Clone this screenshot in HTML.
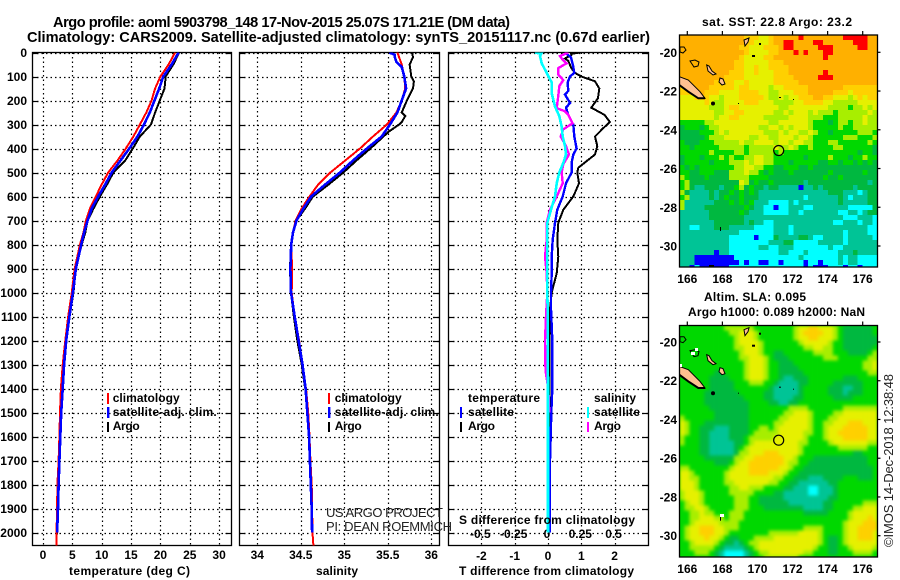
<!DOCTYPE html>
<html>
<head>
<meta charset="utf-8">
<title>Argo profile</title>
<style>
html,body{margin:0;padding:0;background:#fff;width:900px;height:580px;overflow:hidden}
svg{display:block}
text{font-family:"Liberation Sans",sans-serif;fill:#000}
.b12{font-size:12px;font-weight:bold}
.b14{font-size:14.6px;font-weight:bold}
.thin{font-size:13px;font-weight:normal;fill:#222}
</style>
</head>
<body>
<svg id="fig" xmlns="http://www.w3.org/2000/svg" width="900" height="580" viewBox="0 0 900 580">
<defs>
<clipPath id="clipT"><rect x="32.5" y="52.5" width="199" height="493"/></clipPath>
<clipPath id="clipS"><rect x="239.5" y="52.5" width="200" height="493"/></clipPath>
<clipPath id="clipD"><rect x="448.5" y="52.5" width="200" height="493"/></clipPath>
<clipPath id="clipM1"><rect x="679.5" y="35" width="198" height="232"/></clipPath>
<clipPath id="clipM2"><rect x="679.5" y="325.5" width="198" height="231.5"/></clipPath>
<filter id="soften" x="-5%" y="-5%" width="110%" height="110%" color-interpolation-filters="sRGB"><feGaussianBlur stdDeviation="1.7"/></filter>
<g id="islands">
<polygon points="679.3,76.7 688.3,80 700,91.7 705,98.3 698.3,98.3 688.3,91.7 679.3,85" fill="#ffc090" stroke="#000" stroke-width="1"/>
<polyline points="679.3,85 688.3,91.7 698.3,98.3 705,98.3" fill="none" stroke="#000" stroke-width="2"/>
<polygon points="706.7,65 709,66 712,71 716,74 713,75 708,71" fill="#ffc090" stroke="#000" stroke-width="1"/>
<polygon points="720,78 723,79 725,84 722,85 719,82" fill="#ffc090" stroke="#000" stroke-width="1"/>
<polygon points="690,61 695,60 699,62 698,66 694,67" fill="none" stroke="#000" stroke-width="1"/>
<polygon points="680,47 684,47 686,50 683,53 680,52" fill="none" stroke="#000" stroke-width="1"/>
<polygon points="744,40 749,38 748,42 745,46" fill="#ffc090" stroke="#000" stroke-width="1"/>
<circle cx="713" cy="103.5" r="2" fill="#000"/>
<rect x="759" y="43" width="2" height="2" fill="#000"/>
<rect x="752" y="55" width="3" height="2" fill="#000"/>
<rect x="779" y="97" width="2" height="1" fill="#000"/>
<rect x="793" y="99" width="1" height="1" fill="#000"/>
<rect x="738" y="103" width="1" height="1" fill="#000"/>
<rect x="720" y="227" width="1" height="4" fill="#000"/>
</g>
</defs>

<g id="panels"></g>

<text class="b14" x="53" y="27" textLength="457" lengthAdjust="spacing">Argo profile: aoml 5903798_148 17-Nov-2015 25.07S 171.21E (DM data)</text>
<text class="b14" x="27" y="42" textLength="623" lengthAdjust="spacing">Climatology: CARS2009. Satellite-adjusted climatology: synTS_20151117.nc (0.67d earlier)</text>

<text class="b12" x="69" y="575" textLength="121" lengthAdjust="spacing">temperature (deg C)</text>
<text class="b12" x="316" y="575" textLength="42" lengthAdjust="spacing">salinity</text>
<text class="b12" x="459" y="575" textLength="175" lengthAdjust="spacing">T difference from climatology</text>
<text class="b12" x="459" y="524" textLength="176" lengthAdjust="spacing">S difference from climatology</text>

<g>
<rect x="107" y="393" width="2" height="11" fill="#f00"/>
<rect x="107" y="407" width="2.4" height="11" fill="#00f"/>
<rect x="107" y="422" width="2" height="10" fill="#000"/>
<text class="b12" x="112.7" y="402" textLength="67" lengthAdjust="spacing">climatology</text>
<text class="b12" x="112.7" y="416" textLength="104" lengthAdjust="spacing">satellite-adj. clim.</text>
<text class="b12" x="112.7" y="430" textLength="27" lengthAdjust="spacing">Argo</text>
</g>
<g>
<rect x="328" y="393" width="2" height="11" fill="#f00"/>
<rect x="328" y="407" width="2.4" height="11" fill="#00f"/>
<rect x="328" y="422" width="2" height="10" fill="#000"/>
<text class="b12" x="334.7" y="402" textLength="67" lengthAdjust="spacing">climatology</text>
<text class="b12" x="334.7" y="416" textLength="104" lengthAdjust="spacing">satellite-adj. clim.</text>
<text class="b12" x="334.7" y="430" textLength="27" lengthAdjust="spacing">Argo</text>
</g>
<g>
<text class="b12" x="468" y="402" textLength="72" lengthAdjust="spacing">temperature</text>
<rect x="460" y="407" width="2" height="11" fill="#00f"/>
<rect x="460" y="422" width="2" height="10" fill="#000"/>
<text class="b12" x="468" y="416" textLength="46" lengthAdjust="spacing">satellite</text>
<text class="b12" x="468" y="430" textLength="27" lengthAdjust="spacing">Argo</text>
<text class="b12" x="594" y="402" textLength="42" lengthAdjust="spacing">salinity</text>
<rect x="587" y="407" width="2" height="11" fill="#0ff"/>
<rect x="587" y="422" width="2" height="10" fill="#f0f"/>
<text class="b12" x="594" y="416" textLength="46" lengthAdjust="spacing">satellite</text>
<text class="b12" x="594" y="430" textLength="27" lengthAdjust="spacing">Argo</text>
</g>

<text class="thin" x="326" y="517" textLength="117" lengthAdjust="spacing">US ARGO PROJECT</text>
<text class="thin" x="326" y="531" textLength="126" lengthAdjust="spacing">PI: DEAN ROEMMICH</text>

<text class="b12" x="702" y="26" textLength="150" lengthAdjust="spacing">sat. SST: 22.8 Argo: 23.2</text>
<text class="b12" x="704" y="301" textLength="102" lengthAdjust="spacing">Altim. SLA: 0.095</text>
<text class="b12" x="688" y="316" textLength="177" lengthAdjust="spacing">Argo h1000: 0.089 h2000: NaN</text>
<text class="thin" transform="translate(893,547) rotate(-90)" x="0" y="0" textLength="173" lengthAdjust="spacing">©IMOS 14-Dec-2018 12:38:48</text>

<g id="maps"></g>
<g fill="#fff" shape-rendering="crispEdges">
<rect x="695" y="348" width="3" height="3"/>
<rect x="691" y="352" width="4" height="3"/>
<rect x="680" y="364" width="2" height="3"/>
<rect x="720" y="514" width="4" height="3"/>
</g>
</svg>

<script>
// ---- profile data (depth in dbar, temperature deg C, salinity PSU, differences) ----
const depthTicks = [0,100,200,300,400,500,600,700,800,900,1000,1100,1200,1300,1400,1500,1600,1700,1800,1900,2000];
const tempTicks = [0,5,10,15,20,25,30];
const salTicks = [34,34.5,35,35.5,36];
const tDiffTicks = [-2,-1,0,1,2];
const sDiffTicks = [-0.5,-0.25,0,0.25,0.5];
const latTicks = [-20,-22,-24,-26,-28,-30];
const lonTicks = [166,168,170,172,174,176];

const tempDepths = [0,50,100,150,200,250,300,350,400,450,500,550,600,650,700,750,800,900,1000,1100,1200,1300,1400,1500,1600,1700,1800,1900,2000,2054];
const tempArgo = [23.2,22.2,20.9,20.7,19.9,19.1,18.4,16.5,15.3,14.0,12.0,10.9,9.7,8.6,7.6,7.2,6.6,5.6,5.2,4.5,3.9,3.6,3.35,3.1,2.95,2.7,2.6,2.45,2.35,2.3];
const tempClim = [22.5,21.4,20.0,19.1,18.5,17.6,16.5,15.4,14.1,12.7,11.1,10.0,9.0,8.0,7.3,6.9,6.3,5.4,4.9,4.3,3.8,3.35,3.05,2.9,2.8,2.65,2.45,2.4,2.3,2.3];
const tempSat = [23.1,21.9,20.5,19.8,19.0,18.2,17.2,16.1,14.7,13.2,11.7,10.6,9.4,8.3,7.6,7.0,6.5,5.6,5.1,4.5,3.95,3.6,3.35,3.1,2.95,2.8,2.65,2.55,2.4];

const salArgoDepths = [0,20,50,100,120,150,200,250,265,290,300,330,350,400,450,500,550,600,650,700,750,800,900,1000,1100,1200,1300,1400];
const salArgo = [35.78,35.79,35.75,35.77,35.8,35.79,35.72,35.66,35.70,35.66,35.63,35.51,35.45,35.3,35.14,34.99,34.82,34.64,34.55,34.45,34.41,34.39,34.375,34.387,34.42,34.46,34.51,34.55];
const salClimDepths = [0,50,100,150,200,250,300,350,400,450,500,550,600,650,700,750,800,900,1000,1100,1200,1300,1400,1500,1600,1700,1800,1900,2000,2054];
const salClim = [35.61,35.66,35.69,35.70,35.66,35.60,35.49,35.33,35.18,35.01,34.84,34.70,34.6,34.51,34.44,34.41,34.39,34.40,34.395,34.43,34.48,34.52,34.56,34.585,34.6,34.61,34.625,34.63,34.635,34.645];
const salSatDepths = [0,10,20,40,60,100,150,200,250,300,350,400,450,500,550,600,650,700,750,800,900,1000,1100,1200,1300,1400,1500,1600,1700,1800,1900,2000];
const salSat = [35.52,35.58,35.58,35.6,35.66,35.69,35.71,35.66,35.61,35.525,35.43,35.26,35.10,34.95,34.78,34.62,34.53,34.45,34.41,34.39,34.38,34.387,34.43,34.475,34.52,34.555,34.575,34.595,34.605,34.615,34.625,34.63];

const dtArgoDepths = [0,5,10,25,35,65,85,100,120,150,190,230,260,290,315,350,390,425,480,500,545,600,655,710,780,850,920,1000,1070,1200,1400,1600,1800,2000];
const dtArgo = [0.96,0.71,0.71,0.51,0.61,0.7,0.81,1.0,1.41,1.54,1.5,1.3,1.7,1.86,1.66,1.41,1.48,1.41,0.91,0.88,0.93,0.76,0.46,0.31,0.28,0.31,0.26,0.11,0.06,0.05,0.05,0.03,0.03,0.02];
const dtSatDepths = [0,20,60,85,100,125,160,175,210,230,260,300,350,400,425,460,500,545,600,655,710,780,850,920,1000,1070,1100,1200,1300,1400,1500,1600,1700,1800,1900,2000];
const dtSat = [0.51,0.69,0.76,0.79,0.66,0.59,0.61,0.51,0.66,0.54,0.61,0.76,0.79,0.86,0.76,0.71,0.71,0.54,0.44,0.28,0.21,0.14,0.11,0.11,0.09,0.09,0.1,0.13,0.13,0.13,0.1,0.08,0.06,0.05,0.05,0.05];
const dsSatDepths = [0,5,15,45,85,125,170,225,265,310,350,390,425,460,500,545,600,655,710,780,850,920,1000,1070,1400,2000];
const dsSat = [-0.0975,-0.05,-0.06,-0.0475,-0.01,0.0275,0.0275,0.0525,0.085,0.1025,0.11,0.1275,0.135,0.115,0.085,0.065,0.0525,0.0225,-0.005,-0.005,-0.005,-0.005,-0.005,-0.0025,0,0];
const dsArgoDepths = [0,15,30,45,65,92,115,140,180,232,245,260,295,320,350,390,425,465,500,545,600,655,710,780,850,920,1000,1100,1200,1300,1340,1400,1500];
const dsArgo = [0.1525,0.09,0.11,0.14,0.0775,0.0775,0.115,0.085,0.0775,0.065,0.1275,0.1525,0.185,0.115,0.095,0.135,0.1575,0.115,0.1025,0.11,0.065,0.015,-0.01,-0.01,-0.0225,-0.01,-0.005,-0.015,-0.0225,-0.02,-0.015,0.0025,0.01];

// ---- satellite SST map, colour-class rows (north to south) ----
const sstRows = [
"OOOOO OOOOO OOOAA AYYAO OOOOR OOOOO OOORR RRROO",
"OOOOO OOOOO OOOAA YYYAO ORROO OORRO OOOOO RRROO",
"OOOOO OOOOO OOAAY YYAAA ORROO OOORR ROOOO ORROO",
"OOOOO OOOOO OOOAY YYYAA OOORO ROOOR ROOOO OOOOO",
"OOOOO OOOOO OOAYY YYAAO OOOOO OOOOR OOOOO OOOOO",
"OOOOO OOOOO OAAYY YYYAA AOOOO OOOOO OOOOO OOOOO",
"OOOOO OOOOO OAAYY AYYAA AAOOO OOOOO OOOOO OOOOO",
"OOOOO OOOOO AAAYY AYYYA AAOOO OOOOR OOOOO OOOOO",
"OOOOO OOOOA AAAYY YYYYA AAAOO OOORR ROOOO OOOOO",
"AOOOO OOAAA AYYAY YYYYA AAAAO OOOOO OOOOO OOOOO",
"AAAOO OAAAA AYAAY YYYLY YAAAA AOOOO OOOAA AAAAA",
"AAAAO AAAYY YYAAA AYYLL YYYAA AOOOO OAAAY AAAAA",
"YYYAA AYYLY YYAAA AAYLL YLYYA AAOOA AYYYL YAYAA",
"YYYYY AYLLY YYYAA AYYYL LLLYY AAAAY YLLLL LYYYY",
"YYYYY YLLLY AAYYY YYYYY LLYYY YYYYY LLLLG LLYLY",
"YYYYY YYLLY YAAYY YYYYL LYLYY YLYLL LGLLL LLLYL",
"YYYYY YYLYY AAYYY YYLLL LLYYY YLLLG GGLLL LLYLL",
"GGGGG LLYYY YYYYY YYYLL YYYYY YLGGG MGLLG LLYLL",
"MGGGM GLLYY YYYYY YLLYY LYLYY YLGGG GGLGG LLLLL",
"MMMMG GGLYL YYYYY YYLLL YLYYL LYLGG MGGGG GLLLG",
"MMMMM GLLLY YYYYL LYYLL YYYLY YLGGG GGGLL LGGGL",
"GMMMG GGLLL LLYLL YYYYL YYLYY LLGGG LLGGG GGGLG",
"GGMGG GGGLL LLLGL LLLLY LLYLG GLGGG GLLGG GGGGM",
"GGGGG GLGGG GLLGL LLLLG LGGGG GGGGG GGGGG GMGGM",
"MGGGM GGGLG LGGLL YYLLG GGGGG MGGGG LGGGM GGLGG",
"MGGGG GMGGG LLLYL YYLLG GGMGG GGGMM GGMGG MGMGM",
"GMGMG GGGGG GLLYY LLGGM MGGGM MGMMM MMMMM MMMMM",
"GGMMG GGMMM LLLYL LGMGM MMGMM MMMMM GMMMM MMGMM",
"LGMMM GMMMM LLLLG GGGMM MMMMM MMMMG MMGMM MMMMM",
"GLMMM MMMMM MMYLM GMMGM MMMMM TMMMM MMMMM MMMTM",
"GLMTT MMMTM MGLMG MMTMM TTTTB TTMTM MMMMM TMMMM",
"LMTTT TMTMM GMGMG MTTTT TTTTT TTTTT MMMTT TCTMM",
"GLTTT TMTMG MMGMM MTTTT TTTTT CTTTT TTMTC TTTMM",
"LTTTT TTMMM GMGMG TTTCC CCTCT TTTTT TTMTT TTTMM",
"LTTTT MMMMM MMMGM TTCCB CCTTT CCTTT TTTTC CCCCM",
"TTTTT TMMMM MMGMT TTCCC CCTTC TTTTT TTCCT TCTMM",
"TTTTT TMMMM MMMTT TTTTT TTTTT TTTTT TTTCC CTTTC",
"TTTTT TTMMM MMMTM TTCCT TTTTT TTTTT TCCTT TCTTC",
"TTCCT TTMMM TTTTT CCCCT TTCTT TTTTT TTTTT TTTCC",
"TTTTT TTTTT TTCCC CCCCT TTCTT TTTTT TTTCT TTTCC",
"TTTTT TTTTT CCCCC BCCCM TTTTM MTCCT TTTCT TTTTC",
"TTTTT TTTTT CCCCC CCCTT TMMCC CCCTT TTTCT TTTTT",
"TTTTT TTTTT CCCCC CTTCC TTTCC CCCCC TCCTT TTTTT",
"TTTTT TTBTT CCCCC CCCCC TTCCC TCCCC CCTTT MTTTT",
"TTTBB BBBBB BCCCC CCCCC CCCCT CCCCC CCTCT TCCCC",
"TTTBB BBBBB BBCBC CBBCC BCCCC BCCBC CCTCT TCCCC",
"TTBCB BKBBB CCCCC CCCCC CCCCC BCBBB CCCBC CBCCC"
];

// ---- altimetry SLA map, colour-class rows (north to south) ----
const slaRows = [
"GGGGG GGGGL LLLLL GGGGG GGGLY YAAYY YLGMM MMMMG",
"GGGGG GGGGG LLYYY LGGGG GGGLY AAAAY YLGMM MMMMG",
"GGGGG GGGGG GLYYY LGGGG GGGLY YAAYY YLGMM MMMMM",
"GGGGG GGGGG GLYYY YLGGG GGGGL YYYYY LGGMM MMMMM",
"GGGGG GGGGG GLLYY YLGGG GGGGG LLYYL LGGMM MMMMG",
"GGGGG GGGGG GGLYY YLGGM MGGGG GGLLL LGGGM MMMGL",
"GGGGG GGGGG GGLLY YYLGM MMGGG GGGGL LLGGG GGGLL",
"GGGGG GGGGG GGGLY YYLGG MMMGG GGGGG GGGGG GGLLY",
"GGGGG GGGGG GGGLY YYLGG MMMMG GGGGG GGGGG GGLLY",
"GGGGG GGMMG GGGLY YYLGG MMMMM GGGGG GGGGG GGGLL",
"GGGGG GMMMM GGGLY YYLGG MTTMM MGGGG GGGMM MGGGG",
"GGGGG GMMMM MGGGL LLGGM TTTTM MGGGG GMMMM MMGGG",
"GGGGG GMMMM MGGGG GGGMT TTTTM GGGGG MMMTT MMGGG",
"GGGGG MMMMM MMGGG GGMMT TTTTM GGGGG MMMTM MMGGG",
"GGGGG MMMMM MMMGG GGMMT TTTMM GGGGG GMMMM GGGGG",
"GGGGG MMMMM MMMMG GGGMM TTMMG GGGGG GGGGG GGGGG",
"GGGGG GMMMM MMMMG GGGGG GGLLL LGGGG GGGLL LLLLL",
"GGGGG GGMMM MMMMG GGGGG GLLYY YLGGG GLLYY YYYYY",
"LGGGG GGMMM MMMMG GGGGG LLYYY YLGGG LLYYY YYYYY",
"YLGGG MMMMM MMMMG GGGGL LYYYY YLGGL LYYYA AAYYY",
"YLGGM MMTTT MMMMG GLLGL YYYYY YLGGL YYYAA AAAYY",
"YLGGM MTTTT MMMMG LLLLL YYYYY LLGGL YYAAA AAAYY",
"LGGGM MTTTT MMMGL LLLLY YYYYY LGGGL YYYAA AAAYY",
"LGGGM MTTTT TMMGL YYYYY YYYYL LGGGG LYYYY YYYLL",
"GGGGM MTTTT TMGLY YYYYY YYYYL GGGGG GGLLL LLLGG",
"GGGGM MTTTT TMLLY YYAAA YYYYL GGGGG GGGGG MMGGG",
"GGGGG MMMMM MLLYY AAAAA AYYLG GGMMM MMMMM MMMGG",
"GGGGG GGMMM GLYYA AAAAA AYLLG GMMMM MMMMM MMMGG",
"LLGGG GGGGG LYYYA AAAAA YYLGG MMMMM MMMMM MMMMG",
"YYLGG GGGGL YYYYA AAAYY YLGGM MMMMM MMMMM MMMMG",
"YYLLG GGGGL YYYYY YYYYL LGGMM MTTTM MMMGG GMMMG",
"YYYLG GGGGL LYYYY YYYLL GGMMT TTTTT MMGGG GGGGG",
"YYYLG GGGGG LLYYL LLGGG GMMTT TCCTT TMGGG GGGGG",
"LYYYL GGGGG LLLLL GGGGM MTTTT TCCTT TMGGG GGGGG",
"LYYYL GGGGG GLLLG GMMMM MTTTT TTTTT MMGGG GGGGG",
"GLYYL GGGGG GLLLG GMMMM MMTTT TTTTM MGGGG GGLLL",
"GLLYY LGGGG GLLLG GGMMM MMMMM TTTTM MGGGG LLYYY",
"GGLLY LLGGG LLLGG GGGGG GGGGG MMMMM GGGGL YYYYY",
"GGLLY YYLLG LLLGG GGGGG GGGGG GGGGG GGGGL YYYAY",
"GGLYY YYYLL LLGGG GGGGG GGGGG GGGGG GGGLY YYAAA",
"GLYYA AAYYL LLGGG GGGGG GGGGG LLLLG GGGLY YAAAA",
"GLYYA AAYYL GGGGG GGGLL LLLLY YYYLG GGGLY YAAAY",
"GLYYY AYYLG MMGGG LLLLY YYYYY YYYLG MMGLY YAAAY",
"GGLYY YYLGM MTMGL LYYYY YYYYY YYYLG MMGLY YYYYY",
"GGLLL LLGMT TTTMG LYYYY YYYYY YYLGG MMGGL YYYYL",
"GGGLL LGMTC CCCTM GLLYY YYYYY LLGGG MMGGG LLLLG",
"GGGGG GGMTC CCCTM GGLLL LLLLG GGGGG GGGGG GGGGG"
];

const classColors = {O:"#ffb000",A:"#ffd000",Y:"#e6f000",L:"#a8ee00",G:"#00d800",M:"#00b840",T:"#00c496",C:"#00ffff",B:"#0000ff",R:"#ff0000",K:"#000000"};
const floatLon = 171.21;
const floatLat = -25.07;

// ---- axis functions ----
const NS = "http://www.w3.org/2000/svg";
function depthY(d){ return 52.5 + 0.24*d; }
function tempX(t){ return 43 + 5.87*t; }
function salX(s){ return 257.3 + 87*(s-34); }
function dtX(t){ return 548 + 33.3*t; }
function dsX(s){ return 548 + 133.2*s; }
function lonX(lon){ return 687.3 + 17.54*(lon-166); }
function lat1Y(lat){ return 52.3 + 19.37*(-20-lat); }
function lat2Y(lat){ return 342 + 19.37*(-20-lat); }

function mk(parent, tag, attrs, txt){
  const el = document.createElementNS(NS, tag);
  for (const k in attrs) el.setAttribute(k, attrs[k]);
  if (txt !== undefined) el.textContent = txt;
  parent.appendChild(el);
  return el;
}

const panels = document.getElementById("panels");
const maps = document.getElementById("maps");

function drawFrame(name, x0, x1, vticks, xf, labels, labelBase){
  const g = mk(panels, "g", {});
  
  
  depthTicks.forEach(function(d){
    const y = Math.round(depthY(d)) + 0.5;
    const gl = mk(g, "line", {x1:x0, x2:x1, y1:y, y2:y, stroke:"#000", "stroke-width":1.2, "stroke-dasharray":"1.5 3"});
    
    
    const t1 = mk(g, "line", {x1:x0, x2:x0+6, y1:y, y2:y, stroke:"#000", "stroke-width":1.2});
    
    
    const t2 = mk(g, "line", {x1:x1-6, x2:x1, y1:y, y2:y, stroke:"#000", "stroke-width":1.2});
    
    
  });
  vticks.forEach(function(v, i){
    const x = Math.round(xf(v)) + 0.5;
    const gl = mk(g, "line", {x1:x, x2:x, y1:52.5, y2:545.5, stroke:"#000", "stroke-width":1.2, "stroke-dasharray":"1.5 3"});
    
    
    const lab = mk(g, "text", {x:xf(v), y:labelBase, "text-anchor":"middle", "class":"b12"}, labels[i]);
    
    
  });
  const fr = mk(g, "rect", {x:x0, y:52.5, width:x1-x0, height:493, fill:"none", stroke:"#000", "stroke-width":1.3});
  
  
}

drawFrame('temperature-panel', 32.5, 231.5, tempTicks, tempX, tempTicks.map(String), 559);
drawFrame('salinity-panel', 239.5, 439.5, salTicks, salX, salTicks.map(String), 559);
drawFrame('difference-panel', 448.5, 648.5, tDiffTicks, dtX, tDiffTicks.map(String), 560);

sDiffTicks.forEach(function(v){
  const lab = mk(panels, "text", {x:dsX(v)-1, y:538, "text-anchor":"middle", "class":"b12"}, String(v));
  
  
});

depthTicks.forEach(function(d){
  const lab = mk(panels, "text", {x:27, y:depthY(d)+4.5, "text-anchor":"end", "class":"b12"}, String(d));
  
  
});

function series(name, clip, depths, values, xf, color, width){
  const pts = values.map(function(v, i){ return xf(v).toFixed(1) + "," + depthY(depths[i]).toFixed(1); }).join(" ");
  const p = mk(panels, "polyline", {points:pts, fill:"none", stroke:color, "stroke-width":width, "clip-path":"url(#"+clip+")", "shape-rendering":"crispEdges"});
  
  
}

series('temperature-argo-line', 'clipT', tempDepths, tempArgo, tempX, "#000", 2);
series('temperature-climatology-line', 'clipT', tempDepths, tempClim, tempX, "#f00", 2);
series('temperature-satellite-line', 'clipT', tempDepths, tempSat, tempX, "#00f", 2.6);
series('salinity-argo-line', 'clipS', salArgoDepths, salArgo, salX, "#000", 2);
series('salinity-climatology-line', 'clipS', salClimDepths, salClim, salX, "#f00", 2);
series('salinity-satellite-line', 'clipS', salSatDepths, salSat, salX, "#00f", 2.6);
series('t-difference-argo-line', 'clipD', dtArgoDepths, dtArgo, dtX, "#000", 2);
series('t-difference-satellite-line', 'clipD', dtSatDepths, dtSat, dtX, "#00f", 2.4);
series('s-difference-argo-line', 'clipD', dsArgoDepths, dsArgo, dsX, "#f0f", 2.4);
series('s-difference-satellite-line', 'clipD', dsSatDepths, dsSat, dsX, "#0ff", 2.6);

function drawMap(name, rows, clip, top, bottom, latY, dy, tickBase, smooth){
  const g = mk(maps, "g", {});
  
  
  const clipper = mk(g, "g", {"clip-path":"url(#"+clip+")"});
  
  
  const backing = mk(clipper, "rect", {x:679.5, y:top, width:198, height:bottom-top, fill:classColors.G});
  
  
  const cellAttrs = smooth ? {filter:"url(#soften)"} : {"shape-rendering":"crispEdges"};
  const cells = mk(clipper, "g", cellAttrs);
  
  
  rows.forEach(function(row, r){
    const chars = row.replace(/ /g, "");
    for (let c = 0; c < chars.length; c++){
      const cell = mk(cells, "rect", {x:679.5 + c*4.95, y:top + r*5, width:5.2, height:5.2, fill:classColors[chars[c]]});
      
      
    }
  });
  const isl = mk(clipper, "use", {href:"#islands", y:dy});
  
  
  const fr = mk(g, "rect", {x:679.5, y:top, width:198, height:bottom-top, fill:"none", stroke:"#000", "stroke-width":1.3});
  
  
  lonTicks.forEach(function(lon){
    const x = lonX(lon);
    const t = mk(g, "line", {x1:x, x2:x, y1:top-4, y2:top, stroke:"#000", "stroke-width":1.2});
    
    
    const lab = mk(g, "text", {x:x, y:tickBase, "text-anchor":"middle", "class":"b12"}, String(lon));
    
    
  });
  latTicks.forEach(function(lat){
    const y = latY(lat);
    const t = mk(g, "line", {x1:877.5, x2:880.5, y1:y, y2:y, stroke:"#000", "stroke-width":1.2});
    
    
    const lab = mk(g, "text", {x:677, y:y+4.5, "text-anchor":"end", "class":"b12"}, String(lat));
    
    
  });
  const m = mk(g, "circle", {cx:lonX(floatLon), cy:latY(floatLat), r:5, fill:"none", stroke:"#000", "stroke-width":1.2});
  
  
}

drawMap('sst-map', sstRows, 'clipM1', 35, 267, lat1Y, 0, 283, false);
drawMap('sla-map', slaRows, 'clipM2', 325.5, 557, lat2Y, 289.7, 573, true);
</script>
</body>
</html>
